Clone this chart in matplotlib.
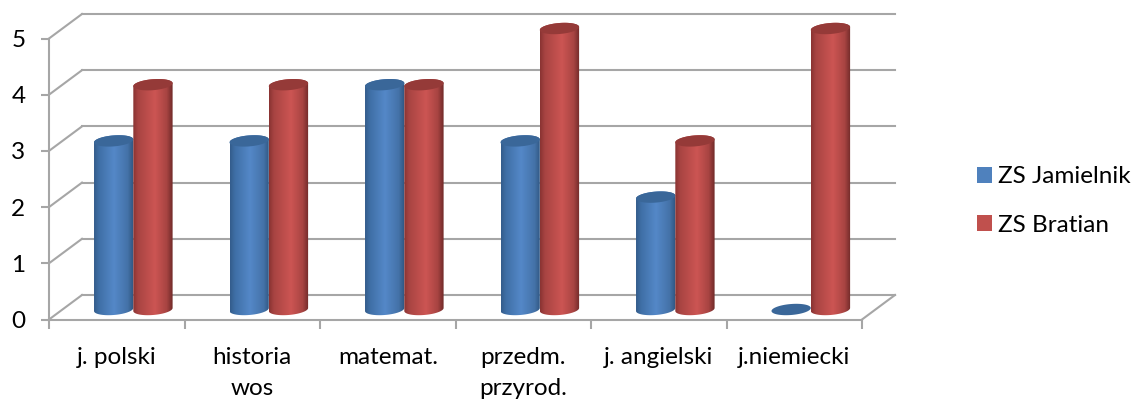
import numpy as np
import matplotlib
matplotlib.use("Agg")
import matplotlib.pyplot as plt
from matplotlib.colors import LinearSegmentedColormap
from matplotlib.patches import Patch, Polygon

plt.rcParams['font.family'] = ['Lato', 'DejaVu Sans']

####### DATA #######

categories = ["j. polski", "historia\nwos", "matemat.", "przedm.\nprzyrod.", "j. angielski", "j.niemiecki"]
jamielnik = [3, 3, 4, 3, 2, 0]
bratian = [4, 4, 4, 5, 3, 5]
y_ticks = [0, 1, 2, 3, 4, 5]

####### LOOK #######

W, H = 1134, 401
AX_L, AX_R, AX_BOTTOM = 49, 862, 319.5
PX_Y = 56.2
PX_X = (AX_R - AX_L) / 6
GRID = "#a6a6a6"

# depth of the fake 3d box, in data units
DX = 33 / PX_X
DY = 24.5 / PX_Y
# cylinders
BAR_W = 39.3 / PX_X
BAR_0 = 45 / PX_X
BASE = 10 / PX_Y
RX = BAR_W / 2
RY = 5.5 / PX_Y
TILT = (3 / PX_Y) / BAR_W

blue_map = LinearSegmentedColormap.from_list("b", [(0, "#345d8c"), (0.12, "#3f6fa6"), (0.5, "#5488c8"), (0.85, "#4472a8"), (1, "#2f5580")])
red_map = LinearSegmentedColormap.from_list("r", [(0, "#8a3433"), (0.12, "#a84442"), (0.55, "#cc5553"), (0.85, "#a84442"), (1, "#702a29")])


def ellipse(xc, yc):
    t = np.linspace(0, 2 * np.pi, 80)
    x = xc + RX * np.cos(t)
    y = yc + RY * np.sin(t) + TILT * (x - xc)
    return np.column_stack([x, y])


def cylinder(ax, left, value, cmap, top_color, z):
    xc = left + RX
    top = BASE + value
    if value > 0:
        # body = bottom half of the low ellipse + top half of the high one
        low = ellipse(xc, BASE)
        high = ellipse(xc, top)
        body = np.vstack([low[40:], high[:40]])
        im = ax.imshow(np.linspace(0, 1, 64).reshape(1, -1), cmap=cmap, aspect="auto",
                       extent=(left, left + BAR_W, BASE - 2 * RY, top + 2 * RY), zorder=z)
        im.set_clip_path(Polygon(body, transform=ax.transData))
    ax.add_patch(Polygon(ellipse(xc, top), closed=True, fc=top_color, ec="none", zorder=z + 0.1))


####### PLOT #######

fig = plt.figure(figsize=(W / 100, H / 100), dpi=100)
ax = fig.add_axes([AX_L / W, (H - AX_BOTTOM) / H, (AX_R - AX_L) / W, AX_BOTTOM / H])
ax.set_xlim(0, 6)
ax.set_ylim(0, AX_BOTTOM / PX_Y)

# back wall and floor
for v in y_ticks:
    ax.plot([DX, 6 + DX], [v + DY, v + DY], color=GRID, lw=1.5, zorder=1, clip_on=False)
    ax.plot([0, DX], [v, v + DY], color=GRID, lw=1.5, zorder=1, clip_on=False)
ax.plot([6, 6 + DX], [0, DY], color=GRID, lw=1.5, zorder=1, clip_on=False)

for i in range(len(categories)):
    cylinder(ax, i + BAR_0, jamielnik[i], blue_map, "#3a6799", 2 + i)
    cylinder(ax, i + BAR_0 + BAR_W, bratian[i], red_map, "#953a38", 2.5 + i)

for s in ["top", "right"]:
    ax.spines[s].set_visible(False)
for s in ["left", "bottom"]:
    ax.spines[s].set_color(GRID)
    ax.spines[s].set_linewidth(1.5)
ax.spines["left"].set_bounds(0, 5)

ax.set_yticks(y_ticks)
ax.tick_params(axis="y", length=6, width=1.5, color=GRID, pad=11, labelsize=17.5, labelcolor="black")
ax.set_xticks(range(7))
ax.set_xticklabels([])
ax.tick_params(axis="x", which="major", length=6.5, width=1.5, color=GRID)
ax.set_xticks(np.arange(len(categories)) + 0.5, categories, minor=True, linespacing=1.62)
ax.tick_params(axis="x", which="minor", length=0, pad=19.5, labelsize=17.5, labelcolor="black")

handles = [Patch(fc="#4f81bd", label="ZS Jamielnik"), Patch(fc="#c0504d", label="ZS Bratian")]
fig.legend(handles=handles, loc="center left", bbox_to_anchor=(977 / W, 1 - 201 / H), frameon=False,
           fontsize=17.5, handlelength=0.62, handleheight=0.62, handletextpad=0.25, labelspacing=1.12,
           borderpad=0, borderaxespad=0)

fig.savefig("out.png", dpi=100)
